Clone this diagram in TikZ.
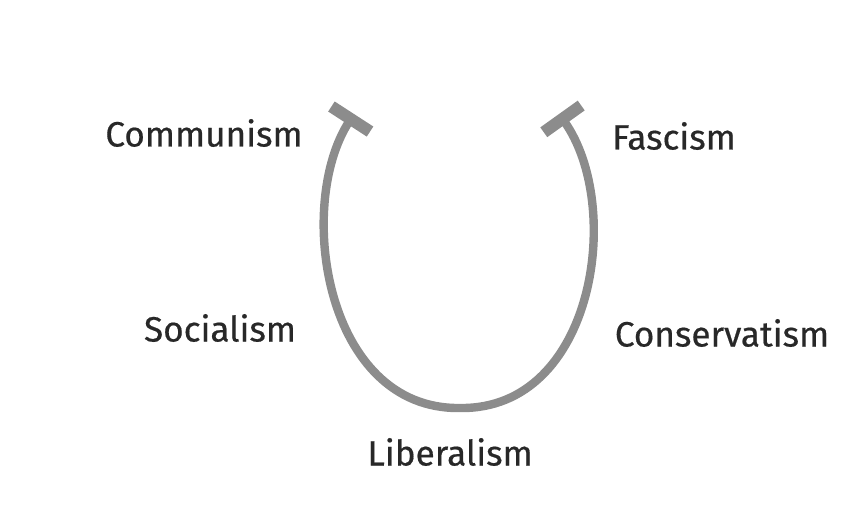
\documentclass[tikz,border=0pt]{standalone}
\usepackage{fontspec}
\setmainfont{Fira Sans}
\newfontfamily\labelfont{Fira Sans}[UprightFeatures={FakeBold=0.5}]
\usepackage{xcolor}
\usetikzlibrary{positioning,arrows.meta}

\definecolor{horsegray}{RGB}{140,140,140}
\definecolor{labelgray}{RGB}{40,40,40}

\begin{document}
\begin{tikzpicture}[
      x=0.025cm, y=-0.025cm,
      label/.style={font=\labelfont\fontsize{25}{30}\selectfont, text=labelgray, inner sep=0pt},
      horseshoe/.style={{Bar[width=1.15cm,line width=0.3cm]}-{Bar[width=1.15cm,line width=0.3cm]},
                        draw=horsegray, line width=0.21cm},
    ]
    \useasboundingbox (0,0) rectangle (868,505);
    % labels round the horseshoe
    \node[label] (com) at (204,133) {Communism};
    \node[label] (fas) at (674,136) {Fascism};
    \node[label] (soc) at (220,328) {Socialism};
    \node[label] (con) at (722,333) {Conservatism};
    \node[label] (lib) at (450,452) {Liberalism};
    % ends and bottom of the horseshoe
    \coordinate (lend) at (354,114);
    \coordinate (bot) at (460,408);
    \coordinate (rend) at (559,114);
    \draw[horseshoe] (lend) .. controls (295,205) and (325,410) .. (bot)
                            .. controls (595,410) and (624,205) .. (rend);
  \end{tikzpicture}
\end{document}
